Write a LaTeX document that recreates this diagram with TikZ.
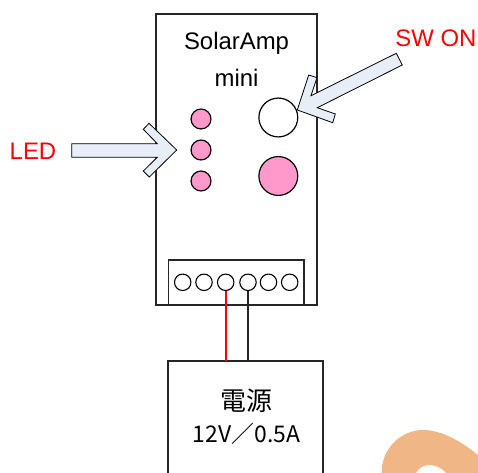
\documentclass[tikz,border=0pt]{standalone}
\usepackage{fontspec}
\setmainfont{Liberation Sans}
\newfontfamily\cjk{Noto Sans CJK JP}
\usetikzlibrary{calc}
\definecolor{ledpink}{RGB}{255,153,204}
\definecolor{arrowfill}{RGB}{232,238,247}
\definecolor{blob}{RGB}{241,182,133}
\definecolor{frameblack}{RGB}{38,38,38}
\definecolor{wirered}{RGB}{255,0,0}
\tikzset{
  frame/.style={draw=frameblack,line width=1.5bp,fill=white},
  led/.style={circle,draw=black,line width=1.2pt,fill=ledpink,minimum size=20pt,inner sep=0pt},
  bigbtn/.style={circle,draw=black,line width=1.2pt,minimum size=39pt,inner sep=0pt},
  term/.style={circle,draw=black,line width=1.1pt,fill=white,minimum size=16.5pt,inner sep=0pt},
  callout/.style={draw=black,line width=0.8pt,fill=arrowfill,line join=miter},
  redlabel/.style={text=red,font=\fontsize{24}{26}\selectfont,inner sep=0pt},
  blacklabel/.style={text=black,font=\fontsize{24}{26}\selectfont,inner sep=0pt},
  wirelink/.style={line width=1.8bp}
}
\begin{document}
\begin{tikzpicture}[x=1bp,y=-1bp]
\useasboundingbox (0,0) rectangle (478,473);
% orange blob, cut by the page edge
\fill[blob] (381.7,473) .. controls (381,450) and (400,430) .. (423,430)
  .. controls (442,430) and (462,442) .. (478,455) -- (478,473) -- (446,473)
  .. controls (441,467) and (434,464.5) .. (427,465)
  .. controls (422,466) and (418,469) .. (416,473) -- cycle;
% main box
\draw[frame] (156,14) rectangle (317,305);
\node[blacklabel] (title1) at (236.5,43.5) {SolarAmp};
\node[blacklabel] (title2) at (236.5,78) {mini};
% LEDs
\node[led] (led1) at (201,119) {};
\node[led] (led2) at (201,150) {};
\node[led] (led3) at (201,181) {};
\node[bigbtn,fill=white] (sw) at (278.3,117.5) {};
\node[bigbtn,fill=ledpink] (btn) at (278.3,176) {};
% connector block
\draw[frame] (168.5,260) rectangle (304,305);
\node[term] (t1) at (182.7,282.3) {};
\node[term] (t2) at (204,282.3) {};
\node[term] (t3) at (225.7,282.3) {};
\node[term] (t4) at (248,282.3) {};
\node[term] (t5) at (268.5,282.3) {};
\node[term] (t6) at (289.7,282.3) {};
% power box, runs off the bottom edge
\draw[frame] (168,361) rectangle (323,480);
\coordinate (pwrA) at (225.7,361);
\coordinate (pwrB) at (248,361);
\draw[wirelink,draw=wirered] (t3.south) -- (pwrA);
\draw[wirelink,draw=frameblack] (t4.south) -- (pwrB);
\node[text=black,font=\cjk\fontsize{26}{28}\selectfont,inner sep=0pt] (pwr1) at (246,401) {電源};
\node[text=black,font=\cjk\fontsize{23}{25}\selectfont,inner sep=0pt] (pwr2) at (246.5,434) {12V／0.5A};
% callout arrows
\draw[callout] (71.7,143.7) -- (157.3,143.7) -- (143.3,129.3) -- (149,123.3) -- (176.7,150)
  -- (149.3,177) -- (143.3,171) -- (157.3,157.3) -- (71.7,157.3) -- cycle;
\draw[callout] (396.3,53.3) -- (402.3,65) -- (317.3,107.7) -- (335.3,114) -- (332.7,122.7)
  -- (297.3,110) -- (308.7,75) -- (317,77.7) -- (311,95.7) -- cycle;
\node[redlabel] (ledlabel) at (33,151) {LED};
\node[redlabel] (swlabel) at (436,38.5) {SW ON};
\end{tikzpicture}
\end{document}
